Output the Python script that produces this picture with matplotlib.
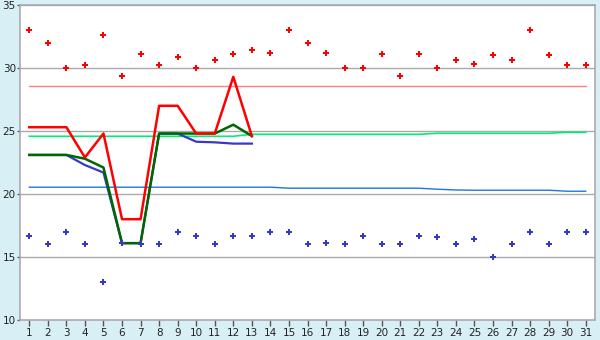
import matplotlib.pyplot as plt

days = list(range(1, 32))

# daily points
max_pts = [33.0, 32.0, 30.0, 30.2, 32.6, 29.4, 31.1, 30.2, 30.9, 30.0,
           30.6, 31.1, 31.4, 31.2, 33.0, 32.0, 31.2, 30.0, 30.0, 31.1,
           29.4, 31.1, 30.0, 30.6, 30.3, 31.0, 30.6, 33.0, 31.0, 30.2, 30.2]
min_pts = [16.7, 16.0, 17.0, 16.0, 13.0, 16.1, 16.0, 16.0, 17.0, 16.7,
           16.0, 16.7, 16.7, 17.0, 17.0, 16.0, 16.1, 16.0, 16.7, 16.0,
           16.0, 16.7, 16.6, 16.0, 16.4, 15.0, 16.0, 17.0, 16.0, 17.0, 17.0]

# reference lines
pink_ref = [28.6] * 31
green_ref = [24.58] * 12 + [24.74] * 10 + [24.82] * 7 + [24.9] * 2
blue_ref = [20.54] * 14 + [20.46] * 8 + [20.38, 20.32] + [20.3] * 5 + [20.22] * 2

# first 13 days lines
line_days = list(range(1, 14))
red_line = [25.3, 25.3, 25.3, 22.9, 24.8, 18.0, 18.0, 27.0, 27.0, 24.8, 24.8, 29.3, 24.6]
green_line = [23.1, 23.1, 23.1, 22.8, 22.1, 16.1, 16.1, 24.8, 24.8, 24.8, 24.8, 25.5, 24.6]
blue_line = [23.1, 23.1, 23.1, 22.3, 21.7, 16.1, 16.1, 24.8, 24.8, 24.15, 24.1, 24.0, 24.0]

fig = plt.figure(figsize=(6, 3.4), dpi=100, facecolor="#d9eff6")
ax = fig.add_axes([20 / 600, 20 / 340, 575 / 600, 315 / 340])
ax.set_facecolor("white")

for y in [15, 20, 25, 30, 35]:
    ax.axhline(y, color="#aaaaaa", lw=1, zorder=1)

ax.plot(days, pink_ref, color="#ff8080", lw=1, zorder=2)
ax.plot(days, green_ref, color="#00ee77", lw=1.2, zorder=2)
ax.plot(days, blue_ref, color="#1f75e0", lw=1, zorder=2)

ax.plot(line_days, blue_line, color="#3838c8", lw=1.6, zorder=3)
ax.plot(line_days, green_line, color="#006600", lw=1.8, zorder=4)
ax.plot(line_days, red_line, color="#ff0000", lw=1.8, zorder=5)

ax.plot(days, max_pts, "P", color="#ff0000", ms=5, mew=0, ls="none", zorder=6)
ax.plot(days, min_pts, "P", color="#3838c8", ms=5, mew=0, ls="none", zorder=6)

ax.set_xlim(0.5, 31.5)
ax.set_ylim(10, 35)
ax.set_xticks(days)
ax.set_yticks([10, 15, 20, 25, 30, 35])
ax.tick_params(axis="both", labelsize=7.5, labelcolor="#222222", color="#555555", width=1)
ax.tick_params(axis="y", length=2, pad=1)
ax.tick_params(axis="x", length=4, pad=2)

for s in ax.spines.values():
    s.set_color("#aaaaaa")
    s.set_linewidth(1.2)

fig.savefig("out.png", dpi=100, facecolor=fig.get_facecolor())
